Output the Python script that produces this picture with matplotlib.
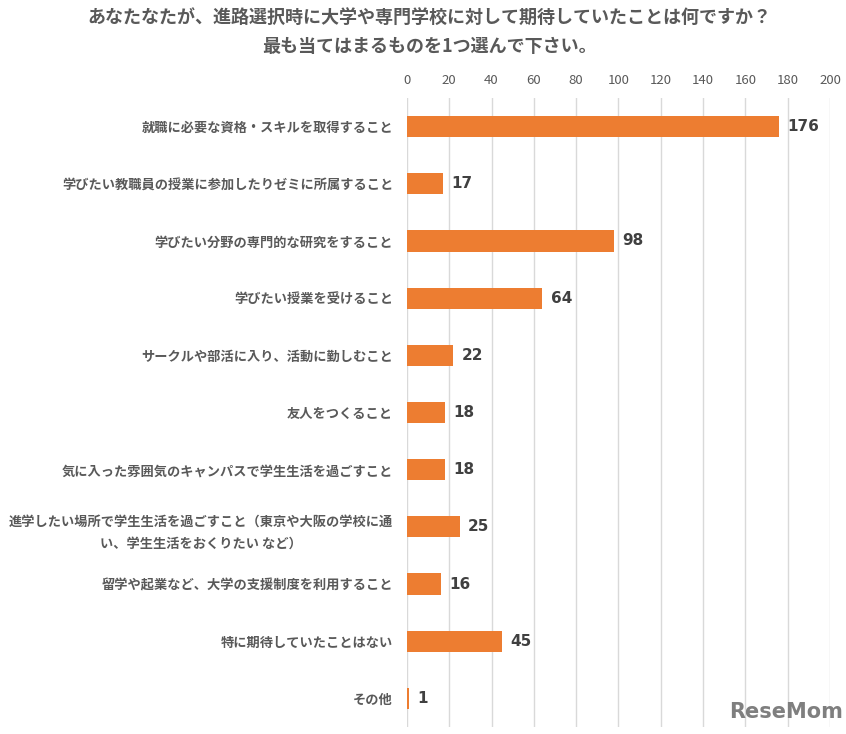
import matplotlib
matplotlib.use("Agg")
import matplotlib.pyplot as plt

plt.rcParams['font.family'] = ['Noto Sans CJK JP', 'DejaVu Sans']

categories = [
    "就職に必要な資格・スキルを取得すること",
    "学びたい教職員の授業に参加したりゼミに所属すること",
    "学びたい分野の専門的な研究をすること",
    "学びたい授業を受けること",
    "サークルや部活に入り、活動に勤しむこと",
    "友人をつくること",
    "気に入った雰囲気のキャンパスで学生生活を過ごすこと",
    "進学したい場所で学生生活を過ごすこと（東京や大阪の学校に通\nい、学生生活をおくりたい など）",
    "留学や起業など、大学の支援制度を利用すること",
    "特に期待していたことはない",
    "その他",
]
values = [176, 17, 98, 64, 22, 18, 18, 25, 16, 45, 1]
xticks = [0, 20, 40, 60, 80, 100, 120, 140, 160, 180, 200]

fig = plt.figure(figsize=(8.46, 7.34), dpi=100)
ax = fig.add_axes([0.481, 0.0095, 0.500, 0.857])

y = list(range(len(categories)))
bars = ax.barh(y, values, height=0.37, color='#ED7D31', zorder=3)
ax.set_ylim(len(categories) - 0.5, -0.5)
ax.set_xlim(0, 200)
ax.set_xticks(xticks)
ax.xaxis.tick_top()
ax.tick_params(axis='x', length=0, pad=8, labelsize=9.5, labelcolor='#595959')
ax.tick_params(axis='y', length=0, pad=10)
ax.set_yticks(y)
ax.set_yticklabels(categories, fontsize=9.5, color='#595959', fontweight='bold',
                   multialignment='center', linespacing=1.8)
ax.grid(axis='x', color='#D9D9D9', linewidth=1, zorder=0)
for s in ax.spines.values():
    s.set_visible(False)

for yi, v in zip(y, values):
    ax.annotate(str(v), (v, yi), xytext=(6, 0), textcoords='offset points',
                va='center', ha='left', fontsize=11, fontweight='bold',
                color='#404040', family=['DejaVu Sans'])

fig.text(0.508, 0.976, "あなたなたが、進路選択時に大学や専門学校に対して期待していたことは何ですか？",
         ha='center', va='center', fontsize=13, fontweight='bold', color='#595959')
fig.text(0.508, 0.936, "最も当てはまるものを1つ選んで下さい。",
         ha='center', va='center', fontsize=13, fontweight='bold', color='#595959')

fig.text(0.997, 0.030, "ReseMom", ha='right', va='center', fontsize=15,
         fontweight='bold', color='#7F7F7F', family=['DejaVu Sans'])

fig.savefig("out.png", dpi=100)
